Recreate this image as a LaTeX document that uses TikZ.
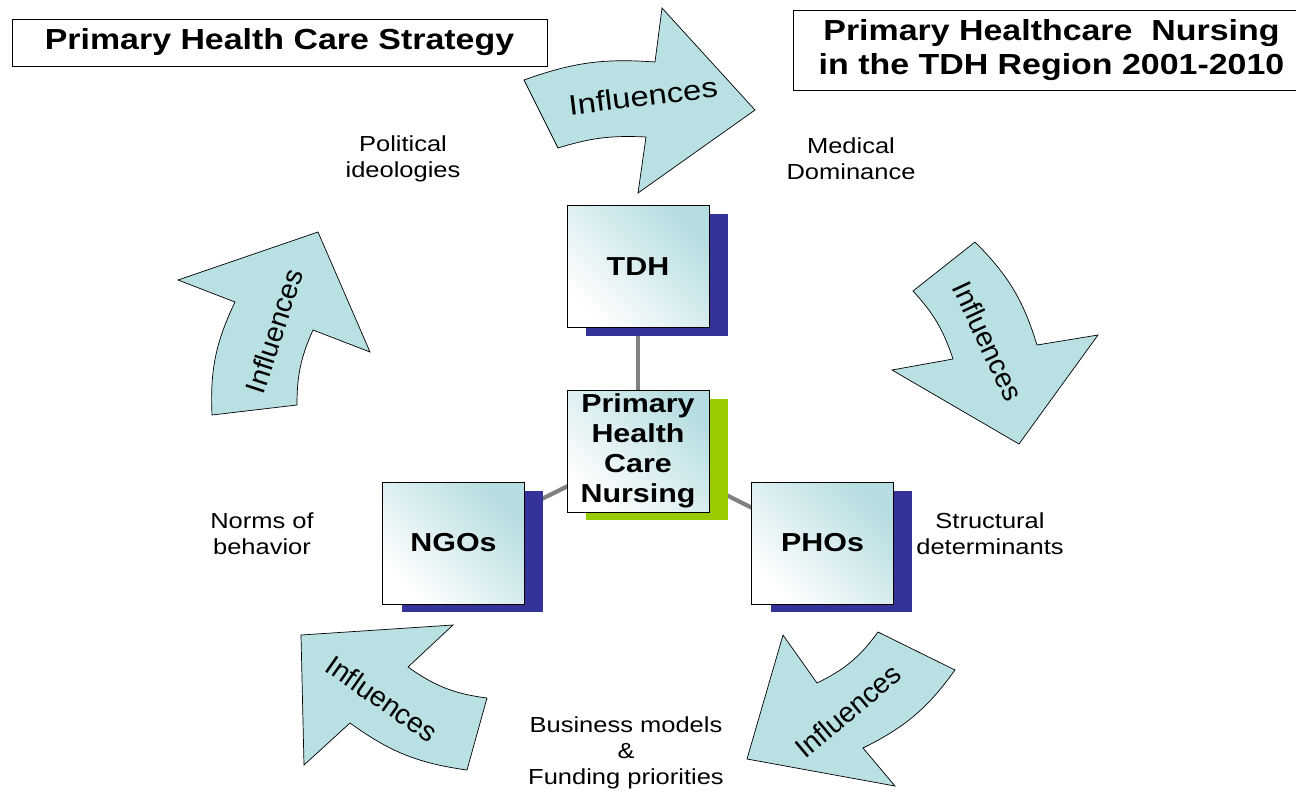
\documentclass[tikz,border=0pt]{standalone}
\usepackage{fontspec}
\setmainfont{Liberation Sans}[FakeStretch=1.17]
\newfontfamily\plainsans{Liberation Sans}
\usetikzlibrary{positioning, shadows, backgrounds}
\definecolor{influfill}{RGB}{185,224,227}
\definecolor{boxteal}{RGB}{182,221,225}
\definecolor{shadownavy}{RGB}{51,51,153}
\definecolor{shadowgreen}{RGB}{153,204,0}
\tikzset{
x=0.02cm, y=-0.02cm, % one unit is one pixel of the slide
titlebox/.style={draw, thin, font=\fontsize{16.5}{19.4}\selectfont\bfseries, align=center},
orgbox/.style={draw, thin, top color=boxteal, bottom color=white, shading angle=-45,
  minimum width=2.84cm, minimum height=2.44cm, inner sep=1pt, align=center,
  font=\fontsize{14.8}{17}\selectfont\bfseries,
  general shadow={shadow xshift=0.38cm, shadow yshift=-0.17cm, shadow scale=1.0, fill=#1}},
orgbox/.default=shadownavy,
factor/.style={align=center, font=\fontsize{12.4}{14.8}\selectfont},
influarrow/.style={draw, thin, fill=influfill, line join=miter}, % the curved block arrows
influtext/.style={font=\plainsans\fontsize{16}{19}\selectfont},
link/.style={draw=gray, line width=2.4pt},
}

\begin{document}
\begin{tikzpicture}
    \useasboundingbox (0,0) rectangle (1296,796);
    \clip (0,0) rectangle (1296,796);

    % titles
    \node[titlebox, minimum width=10.7cm, minimum height=0.94cm] (strategy) at (279.5,42.5) {Primary Health Care Strategy};
    \node[titlebox, minimum width=10.34cm, minimum height=1.6cm] (region) at (1051.5,50) {Primary Healthcare\ \ Nursing\\in the TDH Region 2001-2010};

    % organisations
    \node[orgbox=shadowgreen] (phcn) at (638,451) {Primary\\Health\\Care\\Nursing};
    \node[orgbox, above=1.24cm of phcn] (tdh) {TDH};
    \node[orgbox] (ngos) at (453.5,543) {NGOs};
    \node[orgbox] (phos) at (822.5,543) {PHOs};
    \begin{scope}[on background layer]
    \draw[link] (tdh.center) -- (phcn.center);
    \draw[link] (phcn.center) -- (ngos.center);
    \draw[link] (phcn.center) -- (phos.center);
    \end{scope}

    % influences
    \draw[influarrow] (524,80) to[bend left=12] (655,62) -- (662,8) -- (755,110) -- (638,193) -- (646,137) to[bend right=10] (558,148) -- cycle;
    \draw[influarrow] (913,291) -- (975,242) to[bend left=14] (1037,345) -- (1098,335) -- (1019,444) -- (892,370) -- (953,359) to[bend right=12] cycle;
    \draw[influarrow] (878,632) to[bend left=14] (817,683) -- (783,635) -- (747,759) -- (895,786) -- (863,748) to[bend right=14] (955,670) -- cycle;
    \draw[influarrow] (301,635) -- (453,625) -- (408,667) to[bend right=14] (487,698) -- (467,770) to[bend left=14] (350,723) -- (304,765) -- cycle;
    \draw[influarrow] (178,280) -- (318,232) -- (370,352) -- (313,330) to[bend right=12] (297,405) -- (212,415) to[bend left=14] (235,302) -- cycle;
    \node[influtext, font=\fontsize{16}{19}\selectfont, rotate=7] (infltop) at (643,96) {Influences};
    \node[influtext, rotate=-65] (inflright) at (988,341) {Influences};
    \node[influtext, rotate=40] (inflbr) at (848,711) {Influences};
    \node[influtext, rotate=-35] (inflbl) at (382,699) {Influences};
    \node[influtext, rotate=72] (inflleft) at (274,331) {Influences};

    % factors
    \node[factor] (politics) at (403,159) {Political\\ideologies};
    \node[factor] (medical) at (851,159) {Medical\\Dominance};
    \node[factor] (norms) at (262,534) {Norms of\\behavior};
    \node[factor] (structural) at (990,534) {Structural\\determinants};
    \node[factor] (business) at (626,753) {Business models\\\&\\Funding priorities};
\end{tikzpicture}
\end{document}
